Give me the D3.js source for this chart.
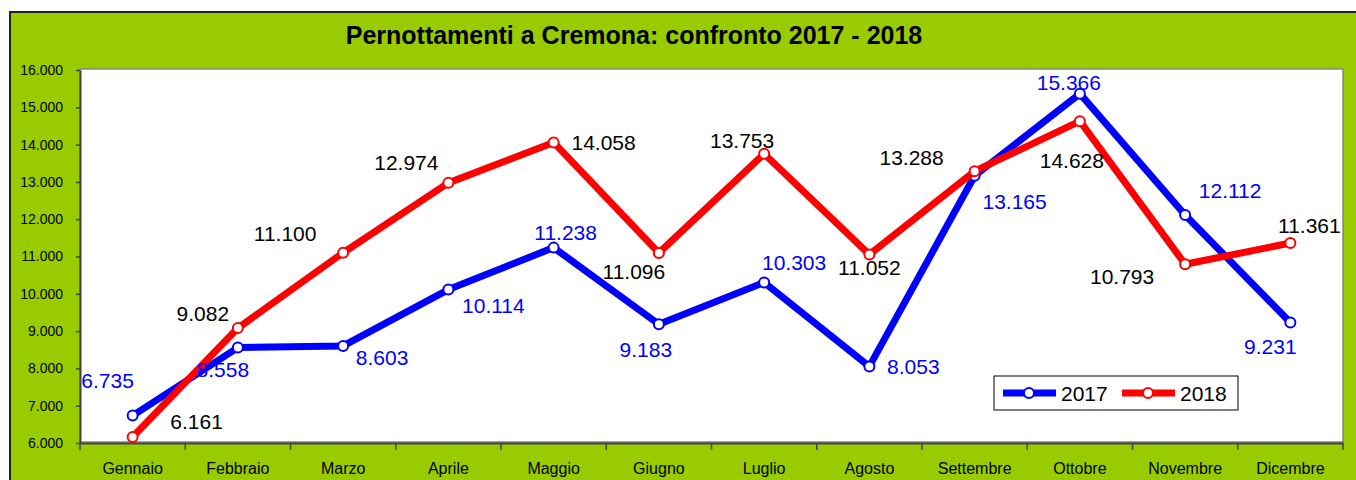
<!DOCTYPE html>
<html>
<head>
<meta charset="utf-8">
<script src="https://cdn.jsdelivr.net/npm/d3@7"></script>
<style>
  body { margin: 0; background: #fff; }
  text { font-family: Arial, "Liberation Sans", sans-serif; }
</style>
</head>
<body>
<div id="chart"></div>
<script>
// data
var months = ["Gennaio", "Febbraio", "Marzo", "Aprile", "Maggio", "Giugno",
              "Luglio", "Agosto", "Settembre", "Ottobre", "Novembre", "Dicembre"];
var values2017 = [6735, 8558, 8603, 10114, 11238, 9183, 10303, 8053, 13165, 15366, 12112, 9231];
var values2018 = [6161, 9082, 11100, 12974, 14058, 11096, 13753, 11052, 13288, 14628, 10793, 11361];
var yTicks = [6000, 7000, 8000, 9000, 10000, 11000, 12000, 13000, 14000, 15000, 16000];

// where Excel put each data label, relative to its point (px)
var labelOff2017 = [[-25,-35],[-15,22],[39,12],[45,16],[12,-15],[-13,25],[30,-20],[44,0],[40,26],[-11,-11],[45,-25],[-20,24]];
var labelOff2018 = [[64,-15],[-35,-15],[-58,-19],[-42,-20],[50,0],[-25,19],[-22,-13],[0,13],[-63,-14],[-8,39],[-63,12],[19,-18]];

var W = 1356, H = 480;
var plot = {left: 80, top: 70, right: 1343, bottom: 443};

var it = d3.formatLocale({decimal: ",", thousands: ".", grouping: [3], currency: ["€", ""]});
var fmt = it.format(",d");

var svg = d3.select("#chart").append("svg")
  .attr("width", W).attr("height", H);

// green chart area
svg.append("rect")
  .attr("x", 10).attr("y", 12)
  .attr("width", W + 10).attr("height", H + 10)
  .attr("fill", "#99cc00")
  .attr("stroke", "#222").attr("stroke-width", 2);

svg.append("text")
  .attr("x", 634).attr("y", 35)
  .attr("text-anchor", "middle")
  .attr("dominant-baseline", "central")
  .style("font-weight", "bold")
  .style("font-size", "25px")
  .text("Pernottamenti a Cremona: confronto 2017 - 2018");

// plot area with grey frame
svg.append("rect")
  .attr("x", plot.left + 1).attr("y", plot.top)
  .attr("width", plot.right - plot.left).attr("height", plot.bottom - plot.top)
  .attr("fill", "#888");
svg.append("rect")
  .attr("x", plot.left).attr("y", plot.top - 1)
  .attr("width", plot.right - plot.left).attr("height", plot.bottom - plot.top)
  .attr("fill", "#fff")
  .attr("stroke", "#888").attr("stroke-width", 1.5);

var x = d3.scaleBand()
  .domain(months)
  .range([plot.left, plot.right]);

var y = d3.scaleLinear()
  .domain([6000, 16000])
  .range([plot.bottom, plot.top]);

// y axis
var yAxis = svg.append("g")
  .attr("transform", "translate(" + plot.left + ",0)")
  .call(d3.axisLeft(y).tickValues(yTicks).tickFormat(fmt).tickSizeInner(4).tickSizeOuter(0).tickPadding(13));
yAxis.select(".domain").attr("stroke", "#444").attr("stroke-width", 2);
yAxis.selectAll(".tick line").attr("stroke", "#444").attr("stroke-width", 1.5);
yAxis.selectAll("text").style("font-size", "14px").attr("fill", "#000");

// x axis: labels centred, ticks between categories
var xAxis = svg.append("g")
  .attr("transform", "translate(0," + plot.bottom + ")")
  .call(d3.axisBottom(x).tickSize(0).tickPadding(20));
xAxis.select(".domain").attr("stroke", "#444").attr("stroke-width", 2);
xAxis.selectAll("text").style("font-size", "16px").attr("fill", "#000");

var bounds = d3.range(months.length + 1).map(function(i) { return plot.left + i * x.step(); });
xAxis.selectAll(".sep")
  .data(bounds)
  .enter().append("line")
  .attr("class", "sep")
  .attr("x1", function(d) { return d; }).attr("x2", function(d) { return d; })
  .attr("y1", 0).attr("y2", 7)
  .attr("stroke", "#444").attr("stroke-width", 1.5);

var cx = function(d, i) { return x(months[i]) + x.bandwidth() / 2; };

var line = d3.line()
  .x(function(d, i) { return cx(d, i); })
  .y(function(d) { return y(d); });

var series = [
  {name: "2017", values: values2017, color: "#0000ff", labelColor: "#0000ff", off: labelOff2017},
  {name: "2018", values: values2018, color: "#ff0000", labelColor: "#000000", off: labelOff2018}
];

series.forEach(function(s) {
  svg.append("path")
    .datum(s.values)
    .attr("fill", "none")
    .attr("stroke", s.color)
    .attr("stroke-width", 7)
    .attr("stroke-linejoin", "round")
    .attr("d", line);

  svg.selectAll(".pt" + s.name)
    .data(s.values)
    .enter().append("circle")
    .attr("cx", cx)
    .attr("cy", function(d) { return y(d); })
    .attr("r", 5)
    .attr("fill", "#fff")
    .attr("stroke", s.color)
    .attr("stroke-width", 2);
});

series.forEach(function(s) {
  svg.selectAll(".lb" + s.name)
    .data(s.values)
    .enter().append("text")
    .attr("x", function(d, i) { return cx(d, i) + s.off[i][0]; })
    .attr("y", function(d, i) { return y(d) + s.off[i][1]; })
    .attr("text-anchor", "middle")
    .attr("dominant-baseline", "central")
    .attr("fill", s.labelColor)
    .style("font-size", "21px")
    .text(function(d) { return fmt(d); });
});

// legend
var lg = svg.append("g").attr("transform", "translate(994,376)");
lg.append("rect")
  .attr("width", 244).attr("height", 34)
  .attr("fill", "#fff").attr("stroke", "#000").attr("stroke-width", 1);

series.forEach(function(s, i) {
  var g = lg.append("g").attr("transform", "translate(" + (9 + i * 119) + ",17)");
  g.append("line")
    .attr("x1", 0).attr("x2", 53)
    .attr("stroke", s.color).attr("stroke-width", 7);
  g.append("circle")
    .attr("cx", 26).attr("r", 5)
    .attr("fill", "#fff").attr("stroke", s.color).attr("stroke-width", 2);
  g.append("text")
    .attr("x", 58)
    .attr("dominant-baseline", "central")
    .style("font-size", "21px")
    .attr("fill", "#000")
    .text(s.name);
});
</script>
</body>
</html>
